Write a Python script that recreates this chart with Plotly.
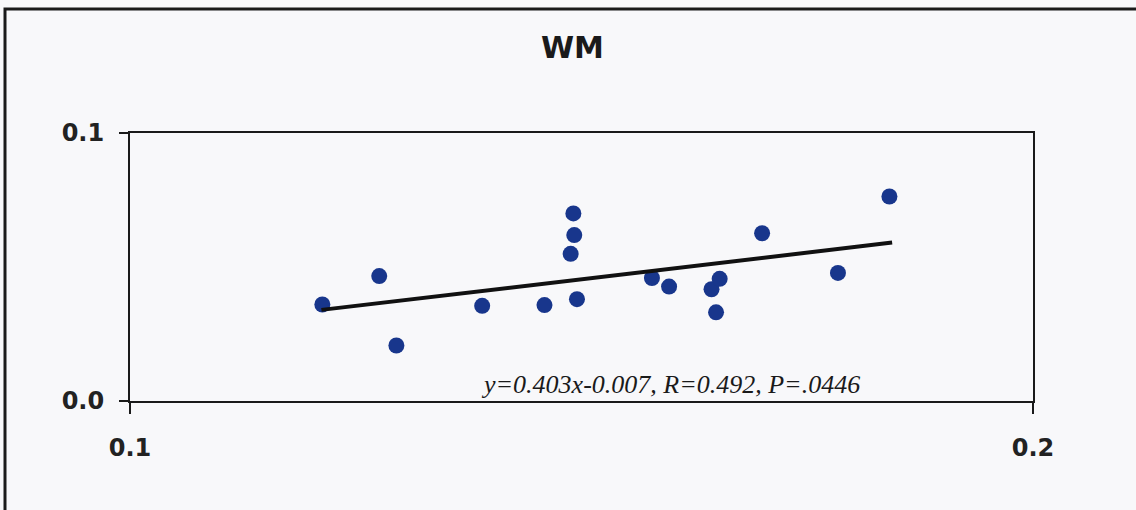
import plotly.graph_objects as go

# Data
x_values = [0.1213, 0.1276, 0.1295, 0.1390, 0.1459, 0.1491, 0.1492, 0.1488, 0.1495,
            0.1578, 0.1597, 0.1644, 0.1653, 0.1649, 0.1700, 0.1784, 0.1841]
y_values = [0.0360, 0.0466, 0.0207, 0.0355, 0.0358, 0.0700, 0.0619, 0.0549, 0.0380,
            0.0459, 0.0427, 0.0417, 0.0456, 0.0331, 0.0626, 0.0478, 0.0763]
trend_x = [0.1212, 0.1844]
trend_y = [0.0340, 0.0591]
x_ticks = [0.1, 0.2]
x_tick_labels = ["0.1", "0.2"]
y_ticks = [0.0, 0.1]
y_tick_labels = ["0.0", "0.1"]
title_text = "WM"
fit_text = "y=0.403x-0.007, R=0.492, P=.0446"

W, H = 1136, 510
L, R, T, B = 130, 1033, 133, 401
pw, ph = R - L, B - T

def px_x(p):
    return (p - L) / pw

def px_y(p):
    return (B - p) / ph

fig = go.Figure()
fig.add_trace(go.Scatter(
    x=x_values, y=y_values, mode="markers",
    marker=dict(size=16, color="rgb(24,54,140)", line=dict(width=0)),
    showlegend=False, hoverinfo="skip"))
fig.add_trace(go.Scatter(
    x=trend_x, y=trend_y, mode="lines",
    line=dict(color="#111111", width=4),
    showlegend=False, hoverinfo="skip"))

axis_font = dict(family="DejaVu Sans", size=24, color="#222222", weight="bold")

fig.update_layout(
    width=W, height=H,
    margin=dict(l=L, r=W - R, t=T, b=H - B),
    paper_bgcolor="#f8f8fa", plot_bgcolor="#f8f8fa",
    xaxis=dict(range=[0.1, 0.2], tickmode="array", tickvals=x_ticks, ticktext=x_tick_labels,
               showgrid=False, zeroline=False, showline=True, mirror=True,
               linecolor="#1a1a1a", linewidth=2, ticks="outside", ticklen=11, tickwidth=2,
               tickcolor="#1a1a1a", tickfont=axis_font, ticklabelstandoff=13),
    yaxis=dict(range=[0.0, 0.1], tickmode="array", tickvals=y_ticks, ticktext=y_tick_labels,
               showgrid=False, zeroline=False, showline=True, mirror=True,
               linecolor="#1a1a1a", linewidth=2, ticks="outside", ticklen=9, tickwidth=2,
               tickcolor="#1a1a1a", tickfont=axis_font, ticklabelstandoff=10),
    annotations=[
        dict(text=title_text, xref="paper", yref="paper", x=px_x(572), y=px_y(48),
             xanchor="center", yanchor="middle", showarrow=False,
             font=dict(family="DejaVu Sans", size=30, color="#1a1a1a", weight="bold")),
        dict(text=fit_text, xref="paper", yref="paper", x=px_x(670), y=px_y(384),
             xanchor="center", yanchor="middle", showarrow=False,
             font=dict(family="Liberation Serif", size=26, color="#1a1a1a", style="italic")),
    ],
    shapes=[
        dict(type="rect", xref="paper", yref="paper",
             x0=px_x(5), x1=px_x(1145), y0=px_y(9), y1=px_y(520),
             line=dict(color="#1a1a1a", width=3), layer="below"),
    ],
)

fig.write_html("out.html", config={"displayModeBar": False},
               post_script="document.body.style.margin='0px';")
